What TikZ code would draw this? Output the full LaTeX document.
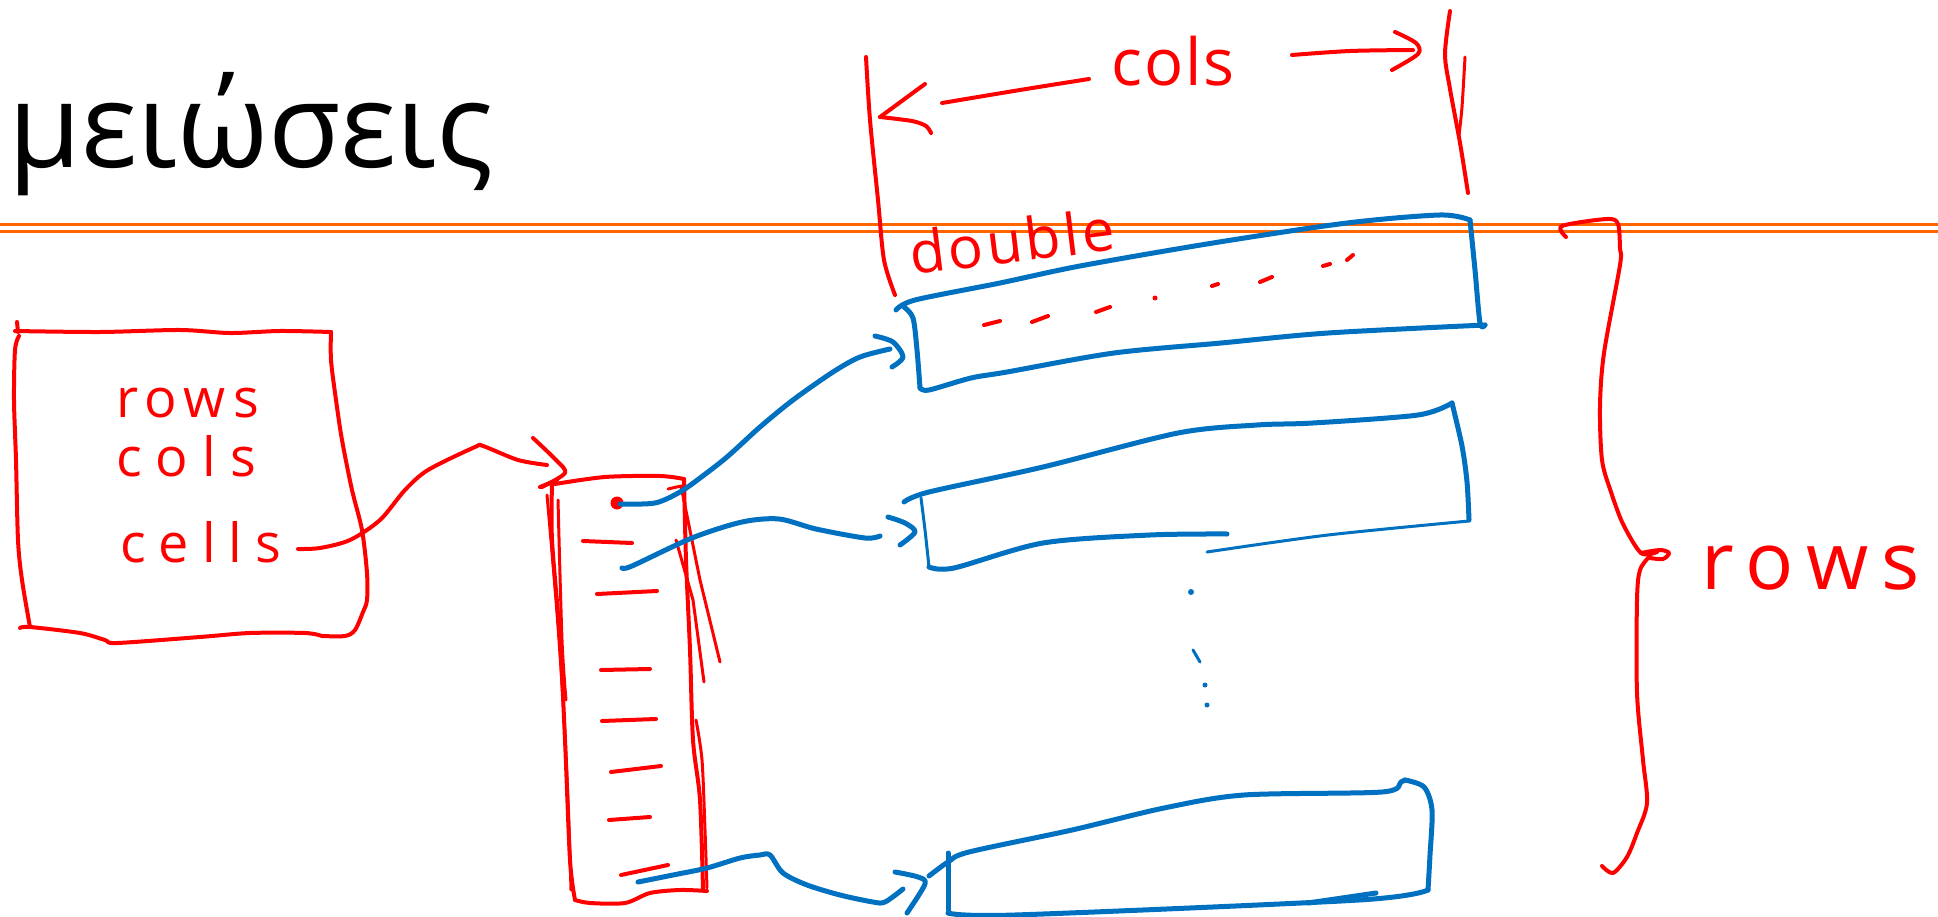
\documentclass[tikz,border=0pt]{standalone}
\usepackage{fontspec}
\setmainfont{Open Sans}
\newfontfamily\handfont{Open Sans}
\definecolor{penred}{RGB}{255,0,0}
\definecolor{penblue}{RGB}{0,112,192}
\definecolor{penorange}{RGB}{255,102,0}
\tikzset{
  redpen/.style={draw=penred,line width=4pt,line cap=round,line join=round},
  redthin/.style={draw=penred,line width=3pt,line cap=round,line join=round},
  bluepen/.style={draw=penblue,line width=5pt,line cap=round,line join=round},
  bluethin/.style={draw=penblue,line width=3pt,line cap=round,line join=round},
  orangeline/.style={draw=penorange,line width=3pt},
  hand/.style={text=penred,inner sep=0pt,anchor=base west,font=\handfont},
}
\begin{document}
\begin{tikzpicture}[x=1pt,y=-1pt]
\useasboundingbox[fill=white] (0,0) rectangle (1938,917);

% title
\node[inner sep=0pt,anchor=base west] (title) at (8,168) {\fontsize{118}{130}\selectfont μειώσεις};

% separator
\draw[orangeline] (0,225) -- (1938,225);
\draw[orangeline] (0,231.5) -- (1938,231.5);

% ---------- left struct box ----------
\draw[redpen] (17,322) -- (18,332);
\draw[redpen] plot[smooth] coordinates {(15,331) (100,332) (180,330) (230,333) (280,331) (331,332)};
\draw[redpen] plot[smooth] coordinates {(331,332) (331,360) (336,400) (342,440) (352,490) (362,530) (367,573) (367,600) (363,612) (355,630) (345,636) (322,636)};
\draw[redpen] plot[smooth] coordinates {(322,636) (305,633) (250,633) (200,637) (117,643) (105,640) (80,633) (30,627) (20,628)};
\draw[redpen] plot[smooth] coordinates {(19,336) (15,350) (14,400) (16,460) (18,540) (22,580) (30,627)};

\node[hand] (lrows) at (116,417) {\fontsize{54}{60}\selectfont\addfontfeatures{LetterSpace=14}rows};
\node[hand] (lcols) at (116,476) {\fontsize{54}{60}\selectfont\addfontfeatures{LetterSpace=26}cols};
\node[hand] (lcells) at (120,562) {\fontsize{54}{60}\selectfont\addfontfeatures{LetterSpace=24}cells};

% red arrow cells -> pointer array
\coordinate (cellsout) at (298,549);
\coordinate (arrtip) at (565,473);
\draw[redpen] plot[smooth] coordinates {(cellsout) (320,548) (350,540) (380,520) (405,490) (428,470) (475,447) (483,446) (518,460) (547,465)};
\draw[redpen] plot[smooth] coordinates {(533,438) (556,460) (arrtip) (542,487)};

% ---------- tall pointer array ----------
\draw[redpen] (540,487) -- (557,480);
\draw[redpen] plot[smooth] coordinates {(555,484) (605,477) (660,476) (684,479)};
\draw[redpen] plot[smooth] coordinates {(552,485) (552,540) (560,640) (565,740) (570,860) (575,900)};
\draw[redthin] plot[smooth] coordinates {(547,495) (556,600) (563,700) (568,800) (571,890)};
\draw[redthin] plot[smooth] coordinates {(558,500) (562,640) (566,700)};
\draw[redpen] plot[smooth] coordinates {(684,479) (686,560) (690,650) (693,740) (700,800) (703,890)};
\draw[redthin] plot[smooth] coordinates {(696,720) (702,760) (705,830) (707,888)};
\draw[redpen] plot[smooth] coordinates {(575,900) (590,903) (625,903) (650,893) (680,890) (707,891)};
\draw[redthin] (668,489) -- (681,486) -- (700,580) -- (720,662);
\draw[redthin] (676,540) -- (693,600) -- (704,682);

% cell dashes
\draw[redpen] (583,541) -- (632,543);
\draw[redpen] (597,594) -- (657,591);
\draw[redpen] (601,670) -- (650,669);
\draw[redpen] (602,721) -- (656,719);
\draw[redpen] (611,772) -- (661,766);
\draw[redpen] (609,820) -- (650,817);
\draw[redpen] (621,875) -- (668,865);

\fill[penred] (617,503) circle (6.5);
\coordinate (p1) at (620,504);
\coordinate (p2) at (622,568);
\coordinate (p3) at (638,882);

% ---------- row 1 ----------
\draw[bluepen] plot[smooth] coordinates {(896,310) (915,300) (1000,283) (1080,266) (1213,243) (1347,223) (1440,215) (1470,220)};
\draw[bluepen] plot[smooth] coordinates {(904,307) (913,318) (917,350) (920,388)};
\draw[bluepen] plot[smooth] coordinates {(1470,220) (1475,270) (1480,323) (1485,325)};
\draw[bluepen] plot[smooth] coordinates {(920,388) (929,390) (971,378) (1007,372) (1114,353) (1221,343) (1328,333) (1485,325)};
% dashes in row 1
\draw[redpen] (984,325) -- (1000,321);
\draw[redpen] (1032,322) -- (1048,316);
\draw[redpen] (1096,312) -- (1110,307);
\fill[penred] (1155,298) circle (2.5);
\draw[redpen] (1212,286) -- (1218,284);
\draw[redpen] (1260,282) -- (1272,277);
\draw[redpen] (1323,266) -- (1330,264);
\draw[redpen] (1347,260) -- (1353,255);

% ---------- row 2 ----------
\draw[bluepen] plot[smooth] coordinates {(904,502) (929,492) (1043,467) (1178,433) (1257,425) (1313,423) (1418,415) (1452,403)};
\draw[bluethin] plot[smooth] coordinates {(921,498) (925,530) (929,567)};
\draw[bluepen] plot[smooth] coordinates {(1452,403) (1462,446) (1467,482) (1469,520)};
\draw[bluepen] plot[smooth] coordinates {(929,567) (954,568) (1043,543) (1150,535) (1227,534)};
\draw[bluethin] plot[smooth] coordinates {(1207,552) (1328,535) (1469,521)};

% vertical dots
\fill[penblue] (1191,592) circle (3);
\draw[bluethin] (1193,650) -- (1200,662);
\fill[penblue] (1205,685) circle (2.5);
\fill[penblue] (1207,705) circle (2.5);

% ---------- row 3 ----------
\draw[bluepen] plot[smooth] coordinates {(929,876) (948,862) (969,852) (1072,830) (1164,808) (1244,795) (1382,792) (1401,782) (1405,780)};
\draw[bluepen] plot[smooth] coordinates {(1405,780) (1424,787) (1432,810) (1430,855) (1428,890)};
\draw[bluepen] (948,853) -- (948,913);
\draw[bluepen] plot[smooth] coordinates {(948,913) (1015,915) (1359,900) (1428,890)};
\draw[bluepen] (1308,903) -- (1376,893);

% ---------- blue pointer arrows ----------
\draw[bluepen] plot[smooth] coordinates {(p1) (655,503) (680,492) (700,478) (727,457) (760,427) (793,400) (833,372) (860,357) (890,349)};
\draw[bluepen] plot[smooth] coordinates {(875,336) (893,342) (903,357) (892,367)};
\draw[bluepen] plot[smooth] coordinates {(p2) (632,566) (692,538) (742,522) (779,519) (816,529) (865,538) (880,536)};
\draw[bluepen] plot[smooth] coordinates {(888,517) (905,523) (915,532) (900,545)};
\draw[bluepen] plot[smooth] coordinates {(p3) (673,875) (707,868) (740,858) (760,855) (770,855) (783,873) (807,885) (840,895) (873,902) (885,902) (903,889)};
\draw[bluepen] plot[smooth] coordinates {(895,872) (918,877) (925,884) (907,913)};

% ---------- cols annotation ----------
\draw[redpen] plot[smooth] coordinates {(866,57) (870,120) (878,200) (884,260) (895,295)};
\draw[redpen] (925,84) -- (880,117);
\draw[redpen] plot[smooth] coordinates {(880,117) (912,121) (926,126) (931,133)};
\draw[redpen] plot[smooth] coordinates {(942,103) (1020,90) (1089,79)};
\node[hand] (tcols) at (1111,86) {\fontsize{65}{70}\selectfont\addfontfeatures{LetterSpace=3}cols};
\draw[redpen] plot[smooth] coordinates {(1292,55) (1350,51) (1413,50)};
\draw[redpen] plot[smooth] coordinates {(1395,32) (1416,43) (1418,54) (1392,70)};
\draw[redpen] plot[smooth] coordinates {(1450,11) (1445,54) (1450,89) (1460,143) (1468,193)};
\draw[redthin] plot[smooth] coordinates {(1465,57) (1462,107) (1459,135)};

\node[hand,rotate=7] (double) at (912,275) {\fontsize{58}{60}\selectfont\addfontfeatures{LetterSpace=6}double};

% ---------- rows brace ----------
\draw[redpen] plot[smooth] coordinates {(1566,237) (1562,226) (1607,219) (1618,224) (1620,249) (1620,265) (1604,353) (1600,406) (1602,460) (1611,492) (1623,524) (1641,553) (1657,552)};
\draw[redpen] plot[smooth] coordinates {(1641,553) (1660,550) (1669,553) (1663,559) (1650,558)};
\draw[redpen] plot[smooth] coordinates {(1650,556) (1640,570) (1637,600) (1637,693) (1643,760) (1647,803) (1637,833) (1627,857) (1613,873) (1602,866)};
\node[hand] (rrows) at (1701,589) {\fontsize{80}{90}\selectfont\addfontfeatures{LetterSpace=17}rows};

\end{tikzpicture}
\end{document}
